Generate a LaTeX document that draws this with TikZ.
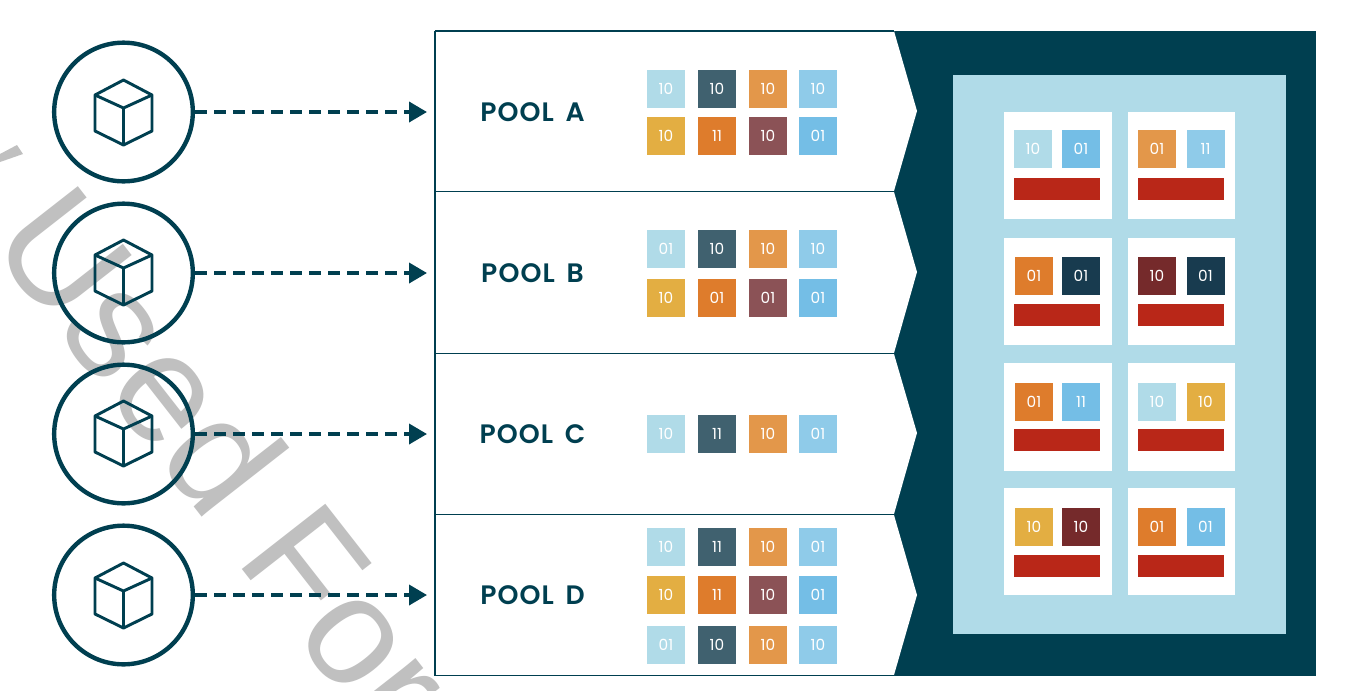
\documentclass[tikz,border=0pt]{standalone}
\usepackage{fontspec}
\setmainfont{Poppins}
\newfontfamily\wmfont{Liberation Sans}
\newfontfamily\poolfont[LetterSpace=4,WordSpace=1.6]{Poppins SemiBold}
\usetikzlibrary{arrows.meta}
\definecolor{deep}{HTML}{003F50}
\definecolor{cA}{HTML}{B0DBE8}
\definecolor{cB}{HTML}{40616F}
\definecolor{cC}{HTML}{E3974A}
\definecolor{cD}{HTML}{8FCBE9}
\definecolor{cE}{HTML}{E3AE42}
\definecolor{cF}{HTML}{DE7C2C}
\definecolor{cG}{HTML}{8B5256}
\definecolor{cH}{HTML}{74BEE6}
\definecolor{cN}{HTML}{183B4F}
\definecolor{cR}{HTML}{752A2B}
\definecolor{barred}{HTML}{B92718}
\definecolor{wm}{HTML}{C0C0C0}
\tikzset{
  x=0.75pt,y=-0.75pt,
  bit/.style={minimum size=28.5pt,inner sep=0pt,text=white,font=\fontsize{11.5}{13}\selectfont},
  poolname/.style={text=deep,font=\fontsize{20}{23}\selectfont\poolfont,inner sep=0pt},
  host/.style={circle,draw=deep,line width=3.3pt,minimum size=104pt,inner sep=0pt},
  cubeline/.style={draw=deep,line width=2.2pt,line join=round},
  flow/.style={draw=deep,line width=2.8pt,dash pattern=on 8.8pt off 5.45pt,-{Triangle[length=13.5pt,width=15pt]}},
  chevron/.style={fill=white,draw=none},
  edge/.style={draw=deep,line width=1.3pt},
  card/.style={fill=white,draw=none,minimum size=80.5pt,inner sep=0pt},
  bar/.style={fill=barred,draw=none,minimum width=64.5pt,minimum height=16pt,inner sep=0pt},
}
\newcommand{\bitbox}[5]{\node[bit,fill=#4] (#1) at (#2,#3) {#5};}
\newcommand{\cubeicon}[2]{%
  \draw[cubeline] (#1,#2-32.5) -- (#1+28.5,#2-17.5) -- (#1+28.5,#2+18.5) -- (#1,#2+32.5) -- (#1-28.5,#2+18.5) -- (#1-28.5,#2-17.5) -- cycle;
  \draw[cubeline] (#1-28.5,#2-17.5) -- (#1,#2-4.5) -- (#1+28.5,#2-17.5) (#1,#2-4.5) -- (#1,#2+32.5);
}
\begin{document}
\begin{tikzpicture}
\useasboundingbox (0,0) rectangle (1359,690);
\fill[white] (0,0) rectangle (1359,690);
% watermark
\begin{scope}
\clip (0,0) rectangle (1359,690);
\fill[wm] (0,154) -- (17,145) -- (23,154) -- (0,162) -- cycle;
\node[rotate=-52,anchor=base west,inner sep=0pt,text=wm,font=\fontsize{115.5}{130}\selectfont\wmfont] (mark) at (-13,242) {Used For};
\end{scope}
% dark panel and chevrons
\fill[deep] (435,31) rectangle (1316,676);
\fill[chevron] (435,31) -- (894,31) -- (917,111) -- (894,191) -- (435,191) -- cycle;
\fill[chevron] (435,192) -- (894,192) -- (917,272) -- (894,353) -- (435,353) -- cycle;
\fill[chevron] (435,354) -- (894,354) -- (917,433) -- (894,514) -- (435,514) -- cycle;
\fill[chevron] (435,515) -- (894,515) -- (917,595) -- (894,675) -- (435,675) -- cycle;
\draw[edge] (435,31) -- (894,31) (435,191.5) -- (894,191.5) (435,353.5) -- (894,353.5) (435,514.5) -- (894,514.5) (435,675.5) -- (894,675.5) (435,31) -- (435,676);
% pool names
\node[poolname] (poolA) at (532.5,112.5) {POOL A};
\node[poolname] (poolB) at (532.5,273) {POOL B};
\node[poolname] (poolC) at (532.5,434) {POOL C};
\node[poolname] (poolD) at (532.5,595) {POOL D};
% pool A
\bitbox{a1}{666}{89}{cA}{10}\bitbox{a2}{717}{89}{cB}{10}\bitbox{a3}{768}{89}{cC}{10}\bitbox{a4}{818}{89}{cD}{10}
\bitbox{a5}{666}{136}{cE}{10}\bitbox{a6}{717}{136}{cF}{11}\bitbox{a7}{768}{136}{cG}{10}\bitbox{a8}{818}{136}{cH}{01}
% pool B
\bitbox{b1}{666}{249}{cA}{01}\bitbox{b2}{717}{249}{cB}{10}\bitbox{b3}{768}{249}{cC}{10}\bitbox{b4}{818}{249}{cD}{10}
\bitbox{b5}{666}{297.5}{cE}{10}\bitbox{b6}{717}{297.5}{cF}{01}\bitbox{b7}{768}{297.5}{cG}{01}\bitbox{b8}{818}{297.5}{cH}{01}
% pool C
\bitbox{c1}{666}{434}{cA}{10}\bitbox{c2}{717}{434}{cB}{11}\bitbox{c3}{768}{434}{cC}{10}\bitbox{c4}{818}{434}{cD}{01}
% pool D
\bitbox{d1}{666}{547}{cA}{10}\bitbox{d2}{717}{547}{cB}{11}\bitbox{d3}{768}{547}{cC}{10}\bitbox{d4}{818}{547}{cD}{01}
\bitbox{d5}{666}{595}{cE}{10}\bitbox{d6}{717}{595}{cF}{11}\bitbox{d7}{768}{595}{cG}{10}\bitbox{d8}{818}{595}{cH}{01}
\bitbox{d9}{666}{645}{cA}{01}\bitbox{d10}{717}{645}{cB}{10}\bitbox{d11}{768}{645}{cC}{10}\bitbox{d12}{818}{645}{cD}{10}
% light field
\fill[cA] (953,75) rectangle (1286,634);
% cards
\node[card] (k1) at (1058,165.5) {};\node[card] (k2) at (1181.5,165.5) {};
\node[card] (k3) at (1058,291.5) {};\node[card] (k4) at (1181.5,291.5) {};
\node[card] (k5) at (1058,417) {};\node[card] (k6) at (1181.5,417) {};
\node[card] (k7) at (1058,541.5) {};\node[card] (k8) at (1181.5,541.5) {};
\bitbox{m1}{1033}{149}{cA}{10}\bitbox{m2}{1081}{149}{cH}{01}\bitbox{m3}{1157}{149}{cC}{01}\bitbox{m4}{1205.5}{149}{cD}{11}
\bitbox{m5}{1034}{275.5}{cF}{01}\bitbox{m6}{1081}{275.5}{cN}{01}\bitbox{m7}{1157}{275.5}{cR}{10}\bitbox{m8}{1205.5}{275.5}{cN}{01}
\bitbox{m9}{1034}{401.5}{cF}{01}\bitbox{m10}{1081}{401.5}{cH}{11}\bitbox{m11}{1157}{401.5}{cA}{10}\bitbox{m12}{1205.5}{401.5}{cE}{10}
\bitbox{m13}{1034}{527}{cE}{10}\bitbox{m14}{1081}{527}{cR}{10}\bitbox{m15}{1157}{527}{cF}{01}\bitbox{m16}{1205.5}{527}{cH}{01}
\node[bar] (r1) at (1057,189) {};\node[bar] (r2) at (1181,189) {};
\node[bar] (r3) at (1057,315) {};\node[bar] (r4) at (1181,315) {};
\node[bar] (r5) at (1057,440) {};\node[bar] (r6) at (1181,440) {};
\node[bar] (r7) at (1057,566) {};\node[bar] (r8) at (1181,566) {};
% hosts
\node[host] (h1) at (123.5,112) {};
\node[host] (h2) at (123.5,273) {};
\node[host] (h3) at (123.5,434) {};
\node[host] (h4) at (123.5,595) {};
\cubeicon{123.5}{112.5}\cubeicon{123.5}{272.5}\cubeicon{123.5}{433.5}\cubeicon{123.5}{595.5}
\coordinate (t1) at (427,112);
\coordinate (t2) at (427,273);
\coordinate (t3) at (427,434);
\coordinate (t4) at (427,595);
\draw[flow] (h1) -- (t1);
\draw[flow] (h2) -- (t2);
\draw[flow] (h3) -- (t3);
\draw[flow] (h4) -- (t4);
\end{tikzpicture}
\end{document}
